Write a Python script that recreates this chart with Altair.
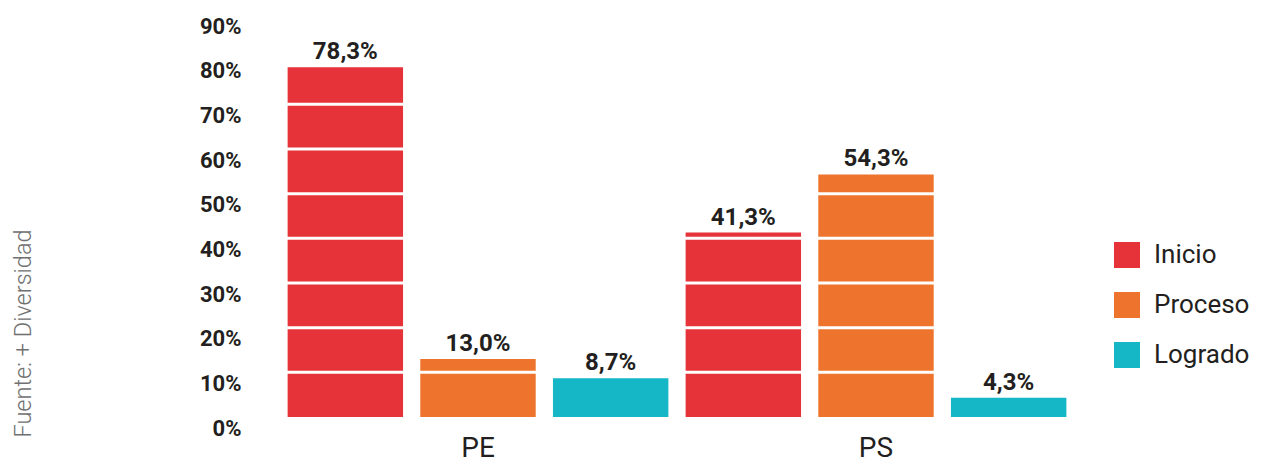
import altair as alt
import pandas as pd

# ---- data ----
groups = ["PE", "PE", "PE", "PS", "PS", "PS"]
levels = ["Inicio", "Proceso", "Logrado", "Inicio", "Proceso", "Logrado"]
values = [78.3, 13.0, 8.7, 41.3, 54.3, 4.3]
level_order = ["Inicio", "Proceso", "Logrado"]
level_colors = ["#E63239", "#EE742D", "#15B7C7"]
grid_values = [10, 20, 30, 40, 50, 60, 70, 80]
y_ticks = [0, 10, 20, 30, 40, 50, 60, 70, 80, 90]
source_note = "Fuente: + Diversidad"

df = pd.DataFrame({"grupo": groups, "nivel": levels, "valor": values})
grid_df = pd.DataFrame({"valor": grid_values})

TXT = "#231F20"
FONT = "Roboto"

x_enc = alt.X(
    "grupo:N",
    scale=alt.Scale(paddingInner=0, paddingOuter=0),
    axis=alt.Axis(title=None, labelAngle=0, labelFontSize=28, labelFont=FONT,
                  labelColor=TXT, domain=False, ticks=False, labelPadding=17),
)
xoff_enc = alt.XOffset(
    "nivel:N", sort=level_order,
    scale=alt.Scale(domain=level_order, paddingInner=0.13, paddingOuter=0.065),
)
y_scale = alt.Scale(domain=[0, 90], nice=False)
y_axis = alt.Axis(values=y_ticks, labelExpr="datum.value + '%'", grid=False,
                  domain=False, ticks=False, labelPadding=38, labelFontSize=22,
                  labelFontWeight="bold", labelFont=FONT, labelColor=TXT,
                  labelOffset=11,
                  title=source_note, titleAngle=270, titleX=-268, titleY=318,
                  titleAlign="center", titleBaseline="top", titleFontSize=23.5,
                  titleFontWeight=300, titleFont=FONT, titleColor="#707070")

bars = alt.Chart(df).mark_bar().encode(
    x=x_enc,
    xOffset=xoff_enc,
    y=alt.Y("valor:Q", scale=y_scale, axis=y_axis),
    color=alt.Color(
        "nivel:N", sort=level_order,
        scale=alt.Scale(domain=level_order, range=level_colors),
        legend=alt.Legend(title=None, orient="none", legendX=835, legendY=227,
                          symbolType="square", symbolSize=676, symbolStrokeWidth=0,
                          symbolOpacity=1, labelFontSize=26, labelFont=FONT,
                          labelColor=TXT, labelOffset=14, rowPadding=24, padding=0),
    ),
)

rules = alt.Chart(grid_df).mark_rule(color="white", strokeWidth=3).encode(
    y=alt.Y("valor:Q", scale=y_scale, axis=y_axis)
)

labels = alt.Chart(df).transform_calculate(
    etiqueta="replace(format(datum.valor, '.1f'), '.', ',') + '%'"
).mark_text(baseline="alphabetic", dy=-8, fontSize=24, fontWeight="bold",
            font=FONT, color=TXT).encode(
    x=x_enc,
    xOffset=xoff_enc,
    y=alt.Y("valor:Q", scale=y_scale, axis=y_axis),
    text="etiqueta:N",
)

chart = alt.layer(bars, rules, labels).properties(
    width=796, height=402,
    autosize=alt.AutoSizeParams(type="none"),
    padding={"left": 271, "top": 7, "right": 176, "bottom": 46},
).configure_view(stroke=None)

chart.save("out.html", embed_options={"renderer": "svg", "actions": False})
